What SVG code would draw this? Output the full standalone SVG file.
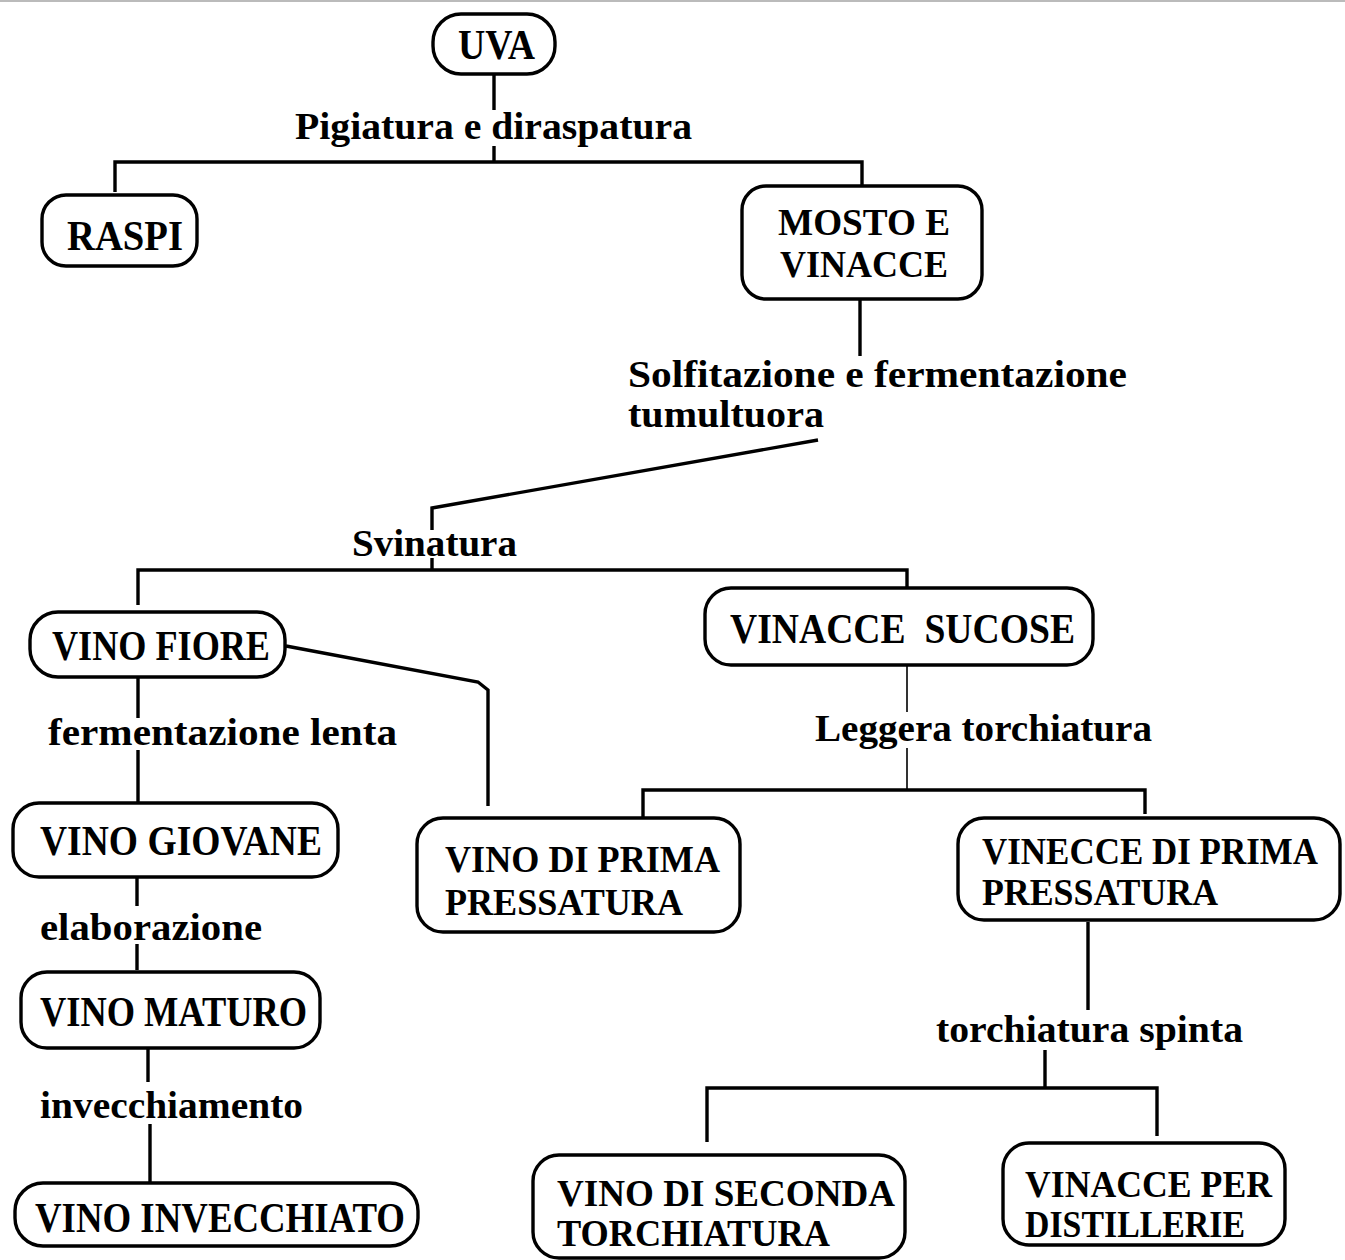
<svg xmlns="http://www.w3.org/2000/svg" width="1345" height="1260" viewBox="0 0 1345 1260">
<style>
.box{fill:#fff;stroke:#000;stroke-width:3.4}
.c{fill:none;stroke:#000;stroke-width:3.4;stroke-linejoin:miter}
.thin{fill:none;stroke:#000;stroke-width:1.6}
text{font-family:"Liberation Serif","Times New Roman",serif;font-weight:bold;fill:#000}
.n{font-size:42px}
.n2{font-size:37px}
.l{font-size:38px}
</style>
<rect x="0" y="0" width="1345" height="1260" fill="#fff"/>
<line x1="0" y1="1" x2="1345" y2="1" stroke="#bbb" stroke-width="2"/>
<g id="connectors">
<path class="c" d="M494 74 V110 M494 146 V162 M115 192 V162 H862 V186"/>
<path class="c" d="M860 300 V356"/>
<path class="c" d="M818 440 L432 508 V530 M432 558 V570 M138 605 V570 H907 V590"/>
<path class="c" d="M286 646 L478 682 L488 690 V806"/>
<path class="c" d="M138 677 V718 M138 750 V802"/>
<path class="thin" d="M907 665 V712 M907 748 V790"/>
<path class="c" d="M643 818 V790 H1145 V814"/>
<path class="c" d="M137 877 V906 M137 944 V970"/>
<path class="c" d="M148 1048 V1082 M150 1124 V1185"/>
<path class="c" d="M1088 922 V1010 M1045 1050 V1088 M707 1142 V1088 H1157 V1136"/>
</g>
<g id="uva"><rect class="box" x="433" y="14" width="122" height="60" rx="28"/><text class="n" x="458" y="59" textLength="77" lengthAdjust="spacingAndGlyphs">UVA</text></g>
<g id="lbl-pigiatura"><text class="l" x="295" y="139" textLength="397" lengthAdjust="spacingAndGlyphs">Pigiatura e diraspatura</text></g>
<g id="raspi"><rect class="box" x="42" y="195" width="155" height="71" rx="24"/><text class="n" x="67" y="250" textLength="116" lengthAdjust="spacingAndGlyphs">RASPI</text></g>
<g id="mosto"><rect class="box" x="742" y="186" width="240" height="113" rx="24"/><text class="n2" x="778" y="235" textLength="172" lengthAdjust="spacingAndGlyphs">MOSTO E</text><text class="n2" x="780" y="277" textLength="168" lengthAdjust="spacingAndGlyphs">VINACCE</text></g>
<g id="lbl-solfitazione"><text class="l" x="628" y="387" textLength="499" lengthAdjust="spacingAndGlyphs">Solfitazione e fermentazione</text><text class="l" x="628" y="427" textLength="196" lengthAdjust="spacingAndGlyphs">tumultuora</text></g>
<g id="lbl-svinatura"><text class="l" x="352" y="556" textLength="165" lengthAdjust="spacingAndGlyphs">Svinatura</text></g>
<g id="vino-fiore"><rect class="box" x="30" y="612" width="255" height="65" rx="28"/><text class="n" x="52" y="660" textLength="218" lengthAdjust="spacingAndGlyphs">VINO FIORE</text></g>
<g id="vinacce-sucose"><rect class="box" x="705" y="588" width="388" height="77" rx="26"/><text class="n" x="730" y="643" textLength="345" lengthAdjust="spacingAndGlyphs" xml:space="preserve">VINACCE  SUCOSE</text></g>
<g id="lbl-fermentazione"><text class="l" x="48" y="745" textLength="349" lengthAdjust="spacingAndGlyphs">fermentazione lenta</text></g>
<g id="lbl-leggera"><text class="l" x="815" y="741" textLength="337" lengthAdjust="spacingAndGlyphs">Leggera torchiatura</text></g>
<g id="vino-giovane"><rect class="box" x="13" y="803" width="325" height="74" rx="26"/><text class="n" x="40" y="855" textLength="282" lengthAdjust="spacingAndGlyphs">VINO GIOVANE</text></g>
<g id="vino-prima"><rect class="box" x="417" y="818" width="323" height="114" rx="26"/><text class="n2" x="445" y="872" textLength="275" lengthAdjust="spacingAndGlyphs">VINO DI PRIMA</text><text class="n2" x="445" y="915" textLength="238" lengthAdjust="spacingAndGlyphs">PRESSATURA</text></g>
<g id="vinecce-prima"><rect class="box" x="958" y="818" width="382" height="102" rx="26"/><text class="n2" x="982" y="864" textLength="336" lengthAdjust="spacingAndGlyphs">VINECCE DI PRIMA</text><text class="n2" x="982" y="905" textLength="236" lengthAdjust="spacingAndGlyphs">PRESSATURA</text></g>
<g id="lbl-elaborazione"><text class="l" x="40" y="940" textLength="222" lengthAdjust="spacingAndGlyphs">elaborazione</text></g>
<g id="vino-maturo"><rect class="box" x="21" y="972" width="299" height="76" rx="26"/><text class="n" x="40" y="1026" textLength="267" lengthAdjust="spacingAndGlyphs">VINO MATURO</text></g>
<g id="lbl-torchiatura-spinta"><text class="l" x="936" y="1042" textLength="307" lengthAdjust="spacingAndGlyphs">torchiatura spinta</text></g>
<g id="lbl-invecchiamento"><text class="l" x="40" y="1118" textLength="263" lengthAdjust="spacingAndGlyphs">invecchiamento</text></g>
<g id="vino-seconda"><rect class="box" x="533" y="1155" width="372" height="103" rx="26"/><text class="n2" x="557" y="1206" textLength="338" lengthAdjust="spacingAndGlyphs">VINO DI SECONDA</text><text class="n2" x="557" y="1246" textLength="273" lengthAdjust="spacingAndGlyphs">TORCHIATURA</text></g>
<g id="vinacce-distillerie"><rect class="box" x="1003" y="1143" width="282" height="102" rx="26"/><text class="n2" x="1025" y="1197" textLength="247" lengthAdjust="spacingAndGlyphs">VINACCE PER</text><text class="n2" x="1025" y="1237" textLength="220" lengthAdjust="spacingAndGlyphs">DISTILLERIE</text></g>
<g id="vino-invecchiato"><rect class="box" x="15" y="1183" width="403" height="63" rx="28"/><text class="n" x="35" y="1232" textLength="370" lengthAdjust="spacingAndGlyphs">VINO INVECCHIATO</text></g>
</svg>
